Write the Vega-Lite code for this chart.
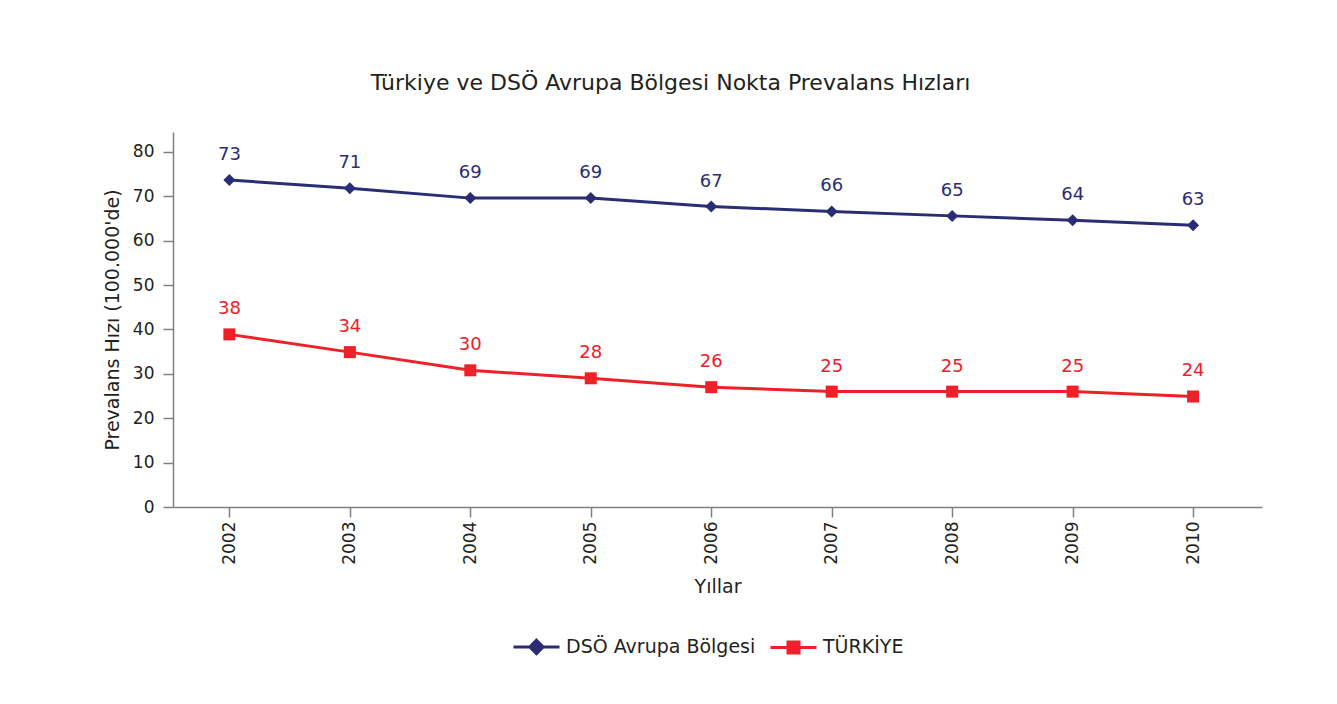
{
  "$schema": "https://vega.github.io/schema/vega-lite/v6.json",
  "autosize": {"type": "none"},
  "width": 1089,
  "height": 375,
  "padding": {"left": 173, "top": 132, "right": 75, "bottom": 197},
  "background": "white",
  "title": {
    "text": "Türkiye ve DSÖ Avrupa Bölgesi Nokta Prevalans Hızları",
    "font": "DejaVu Sans",
    "fontSize": 22,
    "fontWeight": "normal",
    "color": "#231F20",
    "anchor": "middle",
    "dx": -47,
    "offset": 37
  },
  "data": {
    "values": [
      {"year": "2002", "series": "DSÖ Avrupa Bölgesi", "value": 73.7, "label": "73"},
      {"year": "2003", "series": "DSÖ Avrupa Bölgesi", "value": 71.8, "label": "71"},
      {"year": "2004", "series": "DSÖ Avrupa Bölgesi", "value": 69.6, "label": "69"},
      {"year": "2005", "series": "DSÖ Avrupa Bölgesi", "value": 69.6, "label": "69"},
      {"year": "2006", "series": "DSÖ Avrupa Bölgesi", "value": 67.7, "label": "67"},
      {"year": "2007", "series": "DSÖ Avrupa Bölgesi", "value": 66.6, "label": "66"},
      {"year": "2008", "series": "DSÖ Avrupa Bölgesi", "value": 65.6, "label": "65"},
      {"year": "2009", "series": "DSÖ Avrupa Bölgesi", "value": 64.6, "label": "64"},
      {"year": "2010", "series": "DSÖ Avrupa Bölgesi", "value": 63.5, "label": "63"},
      {"year": "2002", "series": "TÜRKİYE", "value": 38.9, "label": "38"},
      {"year": "2003", "series": "TÜRKİYE", "value": 34.9, "label": "34"},
      {"year": "2004", "series": "TÜRKİYE", "value": 30.8, "label": "30"},
      {"year": "2005", "series": "TÜRKİYE", "value": 29.0, "label": "28"},
      {"year": "2006", "series": "TÜRKİYE", "value": 27.0, "label": "26"},
      {"year": "2007", "series": "TÜRKİYE", "value": 26.0, "label": "25"},
      {"year": "2008", "series": "TÜRKİYE", "value": 26.0, "label": "25"},
      {"year": "2009", "series": "TÜRKİYE", "value": 26.0, "label": "25"},
      {"year": "2010", "series": "TÜRKİYE", "value": 24.9, "label": "24"}
    ]
  },
  "encoding": {
    "x": {
      "field": "year",
      "type": "ordinal",
      "scale": {"type": "point", "padding": 0.52, "align": 0.45},
      "axis": {
        "title": "Yıllar",
        "titleFontSize": 19,
        "labelAngle": -90,
        "labelAlign": "right",
        "labelBaseline": "middle",
        "labelPadding": 4,
        "titlePadding": 13
      }
    },
    "y": {
      "field": "value",
      "type": "quantitative",
      "scale": {"domain": [0, 84.5], "nice": false, "zero": true},
      "axis": {
        "title": "Prevalans Hızı (100.000'de)",
        "titleFontSize": 19,
        "values": [0, 10, 20, 30, 40, 50, 60, 70, 80],
        "labelPadding": 9,
        "titlePadding": 10,
        "grid": false
      }
    },
    "color": {
      "field": "series",
      "type": "nominal",
      "scale": {
        "domain": ["DSÖ Avrupa Bölgesi", "TÜRKİYE"],
        "range": ["#2A2D74", "#EE2028"]
      },
      "legend": {
        "title": null,
        "orient": "none",
        "legendX": 339,
        "legendY": 490,
        "direction": "horizontal",
        "symbolSize": 2116,
        "symbolStrokeWidth": 3,
        "labelOffset": 5,
        "columnPadding": 8,
        "labelFontSize": 19,
        "labelFont": "DejaVu Sans",
        "labelColor": "#231F20",
        "labelLimit": 400,
        "encode": {
          "symbols": {
            "update": {
              "shape": {"signal": "datum.value === 'TÜRKİYE' ? 'M-1,0L1,0M-0.24,-0.24L0.24,-0.24L0.24,0.24L-0.24,0.24Z' : 'M-1,0L1,0M0,-0.29L0.29,0L0,0.29L-0.29,0Z'"},
              "fill": {"scale": "color", "field": "value"},
              "stroke": {"scale": "color", "field": "value"},
              "strokeWidth": {"value": 3},
              "opacity": {"value": 1},
              "fillOpacity": {"value": 1}
            }
          }
        }
      }
    }
  },
  "layer": [
    {"mark": {"type": "line", "strokeWidth": 3}},
    {
      "transform": [{"filter": "datum.series === 'DSÖ Avrupa Bölgesi'"}],
      "mark": {"type": "point", "filled": true, "size": 144, "opacity": 1, "shape": "diamond"}
    },
    {
      "transform": [{"filter": "datum.series === 'TÜRKİYE'"}],
      "mark": {"type": "point", "filled": true, "size": 144, "opacity": 1, "shape": "square"}
    },
    {
      "mark": {"type": "text", "dy": -25, "fontSize": 18, "font": "DejaVu Sans", "baseline": "middle"},
      "encoding": {
        "text": {"field": "label"},
        "color": {"field": "series", "type": "nominal", "legend": null}
      }
    }
  ],
  "config": {
    "font": "DejaVu Sans",
    "view": {"stroke": null},
    "axis": {
      "domainColor": "#808080",
      "domainWidth": 1.5,
      "tickColor": "#808080",
      "tickWidth": 1.5,
      "tickSize": 10,
      "labelColor": "#231F20",
      "labelFontSize": 17,
      "labelFont": "DejaVu Sans",
      "titleColor": "#231F20",
      "titleFontSize": 18,
      "titleFont": "DejaVu Sans",
      "titleFontWeight": "normal"
    }
  }
}
